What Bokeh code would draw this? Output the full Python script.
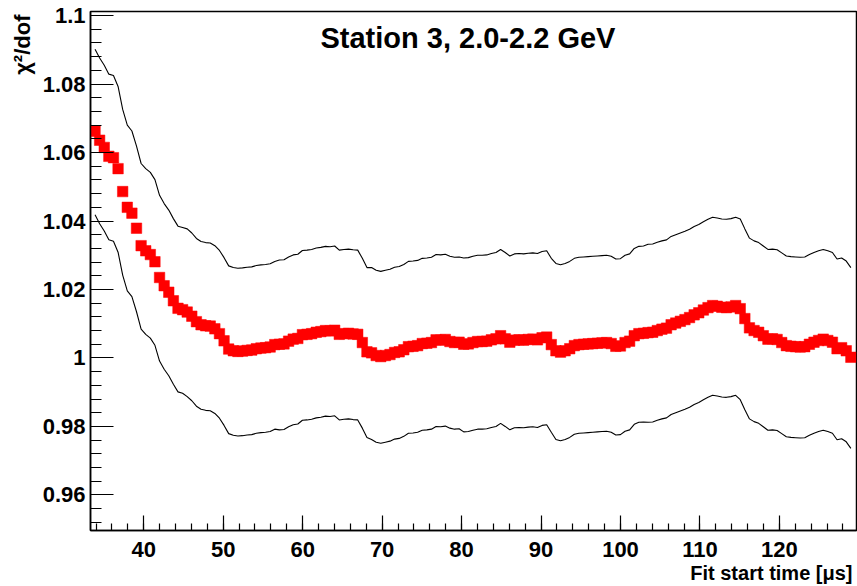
import numpy as np
from bokeh.plotting import figure
from bokeh.models import Label, Title, SingleIntervalTicker, CustomJSTickFormatter, Range1d
from bokeh.embed import file_html
from bokeh.resources import INLINE

# ---- data ----
t_first = 33.87      # first fit start time [us]
t_step = 0.58        # scan step [us]

chi2 = [
    1.0662, 1.0636, 1.0615, 1.0589, 1.0585, 1.0553, 1.0486, 1.0440, 1.0423, 1.0379,
    1.0328, 1.0313, 1.0302, 1.0281, 1.0235, 1.0211, 1.0192, 1.0167, 1.0145, 1.0141,
    1.0134, 1.0122, 1.0106, 1.0097, 1.0094, 1.0093, 1.0085, 1.0071, 1.0050, 1.0026,
    1.0021, 1.0019, 1.0020, 1.0022, 1.0023, 1.0027, 1.0029, 1.0030, 1.0032, 1.0039,
    1.0040, 1.0041, 1.0049, 1.0055, 1.0057, 1.0068, 1.0069, 1.0071, 1.0075, 1.0077,
    1.0080, 1.0079, 1.0081, 1.0069, 1.0071, 1.0072, 1.0070, 1.0069, 1.0045, 1.0018,
    1.0015, 1.0007, 1.0004, 1.0007, 1.0010, 1.0016, 1.0018, 1.0024, 1.0033, 1.0034,
    1.0036, 1.0042, 1.0043, 1.0045, 1.0053, 1.0052, 1.0054, 1.0048, 1.0045, 1.0046,
    1.0040, 1.0041, 1.0045, 1.0048, 1.0048, 1.0049, 1.0053, 1.0056, 1.0065, 1.0056,
    1.0046, 1.0052, 1.0053, 1.0052, 1.0054, 1.0055, 1.0053, 1.0059, 1.0061, 1.0039,
    1.0021, 1.0017, 1.0021, 1.0027, 1.0036, 1.0039, 1.0040, 1.0041, 1.0042, 1.0043,
    1.0044, 1.0045, 1.0042, 1.0034, 1.0035, 1.0045, 1.0049, 1.0065, 1.0071, 1.0072,
    1.0074, 1.0075, 1.0080, 1.0084, 1.0087, 1.0097, 1.0102, 1.0107, 1.0112, 1.0118,
    1.0126, 1.0132, 1.0140, 1.0147, 1.0153, 1.0151, 1.0148, 1.0147, 1.0149, 1.0153,
    1.0144, 1.0115, 1.0088, 1.0080, 1.0075, 1.0065, 1.0055, 1.0056, 1.0054, 1.0045,
    1.0036, 1.0034, 1.0033, 1.0032, 1.0033, 1.0040, 1.0046, 1.0051, 1.0055, 1.0051,
    1.0046, 1.0027, 1.0030, 1.0021, 1.0002,
]

band_upper = [
    1.0902, 1.0876, 1.0855, 1.0829, 1.0825, 1.0793, 1.0726, 1.0680, 1.0663, 1.0619,
    1.0568, 1.0553, 1.0542, 1.0521, 1.0475, 1.0451, 1.0432, 1.0407, 1.0385, 1.0381,
    1.0377, 1.0365, 1.0349, 1.0340, 1.0337, 1.0336, 1.0328, 1.0314, 1.0293, 1.0269,
    1.0264, 1.0262, 1.0263, 1.0265, 1.0266, 1.0270, 1.0272, 1.0273, 1.0275, 1.0282,
    1.0286, 1.0287, 1.0295, 1.0301, 1.0303, 1.0314, 1.0315, 1.0317, 1.0321, 1.0323,
    1.0326, 1.0325, 1.0327, 1.0315, 1.0317, 1.0318, 1.0316, 1.0315, 1.0291, 1.0264,
    1.0264, 1.0256, 1.0253, 1.0256, 1.0259, 1.0265, 1.0267, 1.0273, 1.0282, 1.0283,
    1.0285, 1.0291, 1.0292, 1.0294, 1.0302, 1.0301, 1.0303, 1.0297, 1.0294, 1.0295,
    1.0292, 1.0293, 1.0297, 1.0300, 1.0300, 1.0301, 1.0305, 1.0308, 1.0317, 1.0308,
    1.0298, 1.0304, 1.0305, 1.0304, 1.0306, 1.0307, 1.0305, 1.0311, 1.0313, 1.0291,
    1.0276, 1.0272, 1.0276, 1.0282, 1.0291, 1.0294, 1.0295, 1.0296, 1.0297, 1.0298,
    1.0299, 1.0300, 1.0297, 1.0289, 1.0290, 1.0300, 1.0304, 1.0320, 1.0326, 1.0327,
    1.0332, 1.0333, 1.0338, 1.0342, 1.0345, 1.0355, 1.0360, 1.0365, 1.0370, 1.0376,
    1.0384, 1.0390, 1.0398, 1.0405, 1.0411, 1.0409, 1.0406, 1.0405, 1.0407, 1.0411,
    1.0406, 1.0377, 1.0350, 1.0342, 1.0337, 1.0327, 1.0317, 1.0318, 1.0316, 1.0307,
    1.0298, 1.0296, 1.0295, 1.0294, 1.0295, 1.0302, 1.0308, 1.0313, 1.0317, 1.0313,
    1.0308, 1.0289, 1.0292, 1.0283, 1.0264,
]

band_lower = [
    1.0418, 1.0392, 1.0371, 1.0345, 1.0341, 1.0309, 1.0242, 1.0196, 1.0179, 1.0135,
    1.0084, 1.0069, 1.0058, 1.0037, 0.9991, 0.9967, 0.9948, 0.9923, 0.9901, 0.9897,
    0.9887, 0.9875, 0.9859, 0.9850, 0.9847, 0.9846, 0.9838, 0.9824, 0.9803, 0.9779,
    0.9774, 0.9772, 0.9773, 0.9775, 0.9776, 0.9780, 0.9782, 0.9783, 0.9785, 0.9792,
    0.9790, 0.9791, 0.9799, 0.9805, 0.9807, 0.9818, 0.9819, 0.9821, 0.9825, 0.9827,
    0.9830, 0.9829, 0.9831, 0.9819, 0.9821, 0.9822, 0.9820, 0.9819, 0.9795, 0.9768,
    0.9762, 0.9754, 0.9751, 0.9754, 0.9757, 0.9763, 0.9765, 0.9771, 0.9780, 0.9781,
    0.9783, 0.9789, 0.9790, 0.9792, 0.9800, 0.9799, 0.9801, 0.9795, 0.9792, 0.9793,
    0.9784, 0.9785, 0.9789, 0.9792, 0.9792, 0.9793, 0.9797, 0.9800, 0.9809, 0.9800,
    0.9790, 0.9796, 0.9797, 0.9796, 0.9798, 0.9799, 0.9797, 0.9803, 0.9805, 0.9783,
    0.9762, 0.9758, 0.9762, 0.9768, 0.9777, 0.9780, 0.9781, 0.9782, 0.9783, 0.9784,
    0.9785, 0.9786, 0.9783, 0.9775, 0.9776, 0.9786, 0.9790, 0.9806, 0.9812, 0.9813,
    0.9812, 0.9813, 0.9818, 0.9822, 0.9825, 0.9835, 0.9840, 0.9845, 0.9850, 0.9856,
    0.9864, 0.9870, 0.9878, 0.9885, 0.9891, 0.9889, 0.9886, 0.9885, 0.9887, 0.9891,
    0.9878, 0.9849, 0.9822, 0.9814, 0.9809, 0.9799, 0.9789, 0.9790, 0.9788, 0.9779,
    0.9770, 0.9768, 0.9767, 0.9766, 0.9767, 0.9774, 0.9780, 0.9785, 0.9789, 0.9785,
    0.9780, 0.9761, 0.9764, 0.9755, 0.9736,
]

fit_start = t_first + t_step * np.arange(len(chi2))

title_text = "Station 3, 2.0-2.2 GeV"
x_title = "Fit start time [\u03bcs]"
y_title = "\u03c7\u00b2/dof"

FONT = "Liberation Sans"

p = figure(width=857, height=586, output_backend="svg", toolbar_location=None,
           x_range=Range1d(33.3, 129.7), y_range=Range1d(0.9496, 1.1012),
           min_border_left=90, min_border_right=1, min_border_top=11,
           min_border_bottom=56, background_fill_color="white",
           border_fill_color="white")
p.grid.visible = False
p.outline_line_color = "black"
p.outline_line_width = 1.5

p.line(fit_start, band_upper, line_color="black", line_width=1.1)
p.line(fit_start, band_lower, line_color="black", line_width=1.1)
p.scatter(fit_start, chi2, marker="square", size=10.5, fill_color="#ff0000",
          line_color="#ff0000", line_width=0.5)

# axes, ROOT style: ticks inside
xa = p.xaxis[0]
xa.ticker = SingleIntervalTicker(interval=10, num_minor_ticks=5)
xa.major_tick_in = 15
xa.major_tick_out = 0
xa.minor_tick_in = 7
xa.minor_tick_out = 0
xa.axis_line_width = 1.5
xa.major_tick_line_width = 1.2
xa.minor_tick_line_width = 1.2
xa.major_label_text_font = FONT
xa.major_label_text_font_style = "bold"
xa.major_label_text_font_size = "22px"
xa.major_label_text_color = "black"
xa.major_label_standoff = 11

ya = p.yaxis[0]
ya.ticker = SingleIntervalTicker(interval=0.02, num_minor_ticks=5)
ya.major_tick_in = 23
ya.major_tick_out = 0
ya.minor_tick_in = 11
ya.minor_tick_out = 0
ya.axis_line_width = 1.5
ya.major_tick_line_width = 1.2
ya.minor_tick_line_width = 1.2
ya.major_label_text_font = FONT
ya.major_label_text_font_style = "bold"
ya.major_label_text_font_size = "22px"
ya.major_label_text_color = "black"
ya.major_label_standoff = 5
ya.formatter = CustomJSTickFormatter(code="return String(parseFloat(tick.toFixed(3)));")

p.add_layout(Label(x=80.8, y=1.0935, text=title_text, text_align="center",
                   text_baseline="middle", text_font=FONT, text_font_style="bold",
                   text_font_size="29px", text_color="black"))

xt = Title(text=x_title, align="right", text_font=FONT, text_font_style="bold",
           text_font_size="20px", text_color="black", standoff=0, offset=4)
p.add_layout(xt, "below")
yt = Title(text=y_title, align="right", text_font=FONT, text_font_style="bold",
           text_font_size="22px", text_color="black", standoff=9, offset=3)
p.add_layout(yt, "left")

open("out.html", "w").write(file_html(p, INLINE))
